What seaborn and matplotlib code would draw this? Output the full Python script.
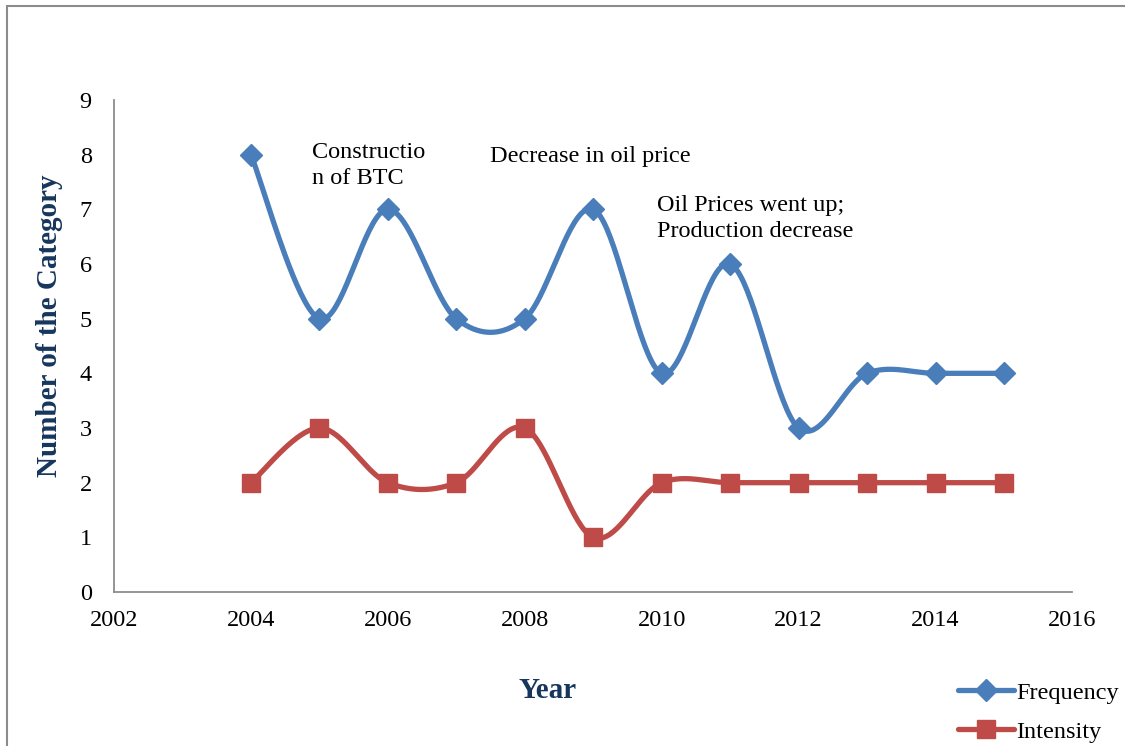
import numpy as np
import pandas as pd
import matplotlib
matplotlib.use("Agg")
import matplotlib.pyplot as plt
from matplotlib.lines import Line2D
from matplotlib.patches import Rectangle
import seaborn as sns

years = [2004, 2005, 2006, 2007, 2008, 2009, 2010, 2011, 2012, 2013, 2014, 2015]
frequency = [8, 5, 7, 5, 5, 7, 4, 6, 3, 4, 4, 4]
intensity = [2, 3, 2, 2, 3, 1, 2, 2, 2, 2, 2, 2]
x_ticks = [2002, 2004, 2006, 2008, 2010, 2012, 2014, 2016]
y_ticks = list(range(0, 10))
notes = ["Constructio\nn of BTC", "Decrease in oil price", "Oil Prices went up;\nProduction decrease"]

BLUE = "#4A7EBB"
RED = "#BE4B48"
NAVY = "#17365D"


def smooth(xs, ys, n=40):
    """Catmull-Rom (Excel-style) smoothing for rendering the line."""
    xs = np.asarray(xs, float)
    ys = np.asarray(ys, float)
    P = np.column_stack([xs, ys])
    out = []
    for i in range(len(P) - 1):
        p0 = P[i - 1] if i > 0 else P[i]
        p1 = P[i]
        p2 = P[i + 1]
        p3 = P[i + 2] if i + 2 < len(P) else P[i + 1]
        c1 = p1 + (p2 - p0) / 6.0
        c2 = p2 - (p3 - p1) / 6.0
        t = np.linspace(0, 1, n, endpoint=(i == len(P) - 2))[:, None]
        seg = ((1 - t) ** 3) * p1 + 3 * ((1 - t) ** 2) * t * c1 + 3 * (1 - t) * t ** 2 * c2 + t ** 3 * p2
        out.append(seg)
    out = np.vstack(out)
    return out[:, 0], out[:, 1]


sns.set_theme(style="white")
plt.rcParams["font.family"] = ["Liberation Serif", "DejaVu Serif"]
plt.rcParams["text.color"] = "black"

fig = plt.figure(figsize=(11.25, 7.46), dpi=100)
ax = fig.add_axes([0.1013, 0.2064, 0.852, 0.6596])

fx, fy = smooth(years, frequency)
ix, iy = smooth(years, intensity)
df_f = pd.DataFrame({"x": fx, "y": fy})
df_i = pd.DataFrame({"x": ix, "y": iy})

sns.lineplot(data=df_f, x="x", y="y", ax=ax, color=BLUE, linewidth=3.8, sort=False, estimator=None)
sns.lineplot(data=df_i, x="x", y="y", ax=ax, color=RED, linewidth=3.8, sort=False, estimator=None)
ax.plot(years, frequency, linestyle="none", marker="D", markersize=11, color=BLUE, zorder=5)
ax.plot(years, intensity, linestyle="none", marker="s", markersize=13, color=RED, zorder=5)

ax.set_xlim(2002, 2016)
ax.set_ylim(0, 9)
ax.set_xticks(x_ticks)
ax.set_yticks(y_ticks)
ax.tick_params(axis="both", length=0, labelsize=17.5, colors="black")
ax.tick_params(axis="x", pad=13)
ax.tick_params(axis="y", pad=16)
for s in ["top", "right"]:
    ax.spines[s].set_visible(False)
for s in ["left", "bottom"]:
    ax.spines[s].set_color("#8C8C8C")
    ax.spines[s].set_linewidth(1.3)

ax.set_xlabel("")
ax.set_ylabel("")
fig.text(0.487, 0.075, "Year", ha="center", va="center", fontsize=21, fontweight="bold", color=NAVY)
fig.text(0.044, 0.564, "Number of the Category", ha="center", va="center", rotation=90,
         fontsize=21, fontweight="bold", color=NAVY)

ax.text(2004.89, 7.80, notes[0], ha="left", va="center", fontsize=17.5, linespacing=1.3, color="black")
ax.text(2007.49, 7.96, notes[1], ha="left", va="center", fontsize=17.5, color="black")
ax.text(2009.93, 6.83, notes[2], ha="left", va="center", fontsize=17.5, linespacing=1.3, color="black")

handles = [
    Line2D([], [], color=BLUE, linewidth=3.8, marker="D", markersize=11),
    Line2D([], [], color=RED, linewidth=3.8, marker="s", markersize=13),
]
leg = fig.legend(handles, ["Frequency", "Intensity"], loc="center left", bbox_to_anchor=(0.843, 0.045),
                 frameon=False, fontsize=17.5, handlelength=2.3, handletextpad=0.1, labelspacing=0.7,
                 borderaxespad=0)
for t in leg.get_texts():
    t.set_color("black")

fig.patches.append(Rectangle((7 / 1125, -0.01), 1.02, 1 - 6 / 746 + 0.01, transform=fig.transFigure,
                             fill=False, edgecolor="#8C8C8C", linewidth=1.5))

fig.savefig("out.png", dpi=100)
